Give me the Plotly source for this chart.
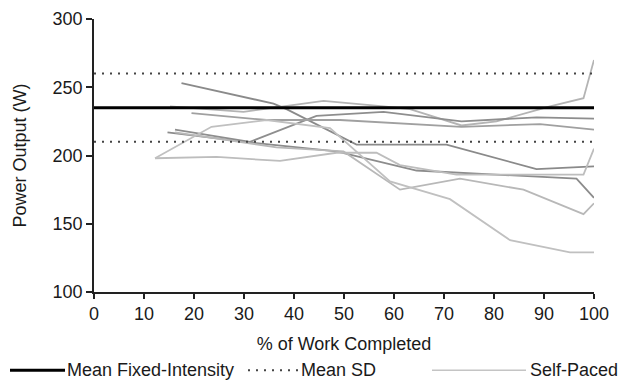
import plotly.graph_objects as go

# ---- data ----
x_ticks = [0, 10, 20, 30, 40, 50, 60, 70, 80, 90, 100]
y_ticks = [100, 150, 200, 250, 300]
mean_fixed = 235
mean_sd = 25

# self-paced individual trials (% work completed, power W)
sp1_x = [17.5, 35.9, 38.5, 52.5, 70.5, 88.5, 100]
sp1_y = [253, 238, 234, 208, 208, 190, 192]
sp2_x = [15.2, 23.2, 29.9, 37.9, 45.9, 57.9, 63.2, 73.5, 80.5, 91.2, 97.9, 100]
sp2_y = [236, 234, 232, 236, 240, 236, 234, 222, 225, 236, 242, 270]
sp3_x = [16.2, 31.2, 44.5, 57.9, 73.5, 88.5, 100]
sp3_y = [219, 210, 229, 232, 225, 228, 227]
sp4_x = [19.5, 34.5, 49.2, 73.5, 89.2, 100]
sp4_y = [231, 226, 226, 221, 223, 219]
sp5_x = [14.7, 32.5, 48.5, 64.5, 96.5, 100]
sp5_y = [217, 209, 203, 189, 183, 169]
sp6_x = [12.2, 24.5, 37.2, 48.5, 56.5, 61.2, 72.5, 97.9, 100]
sp6_y = [198, 199, 196, 202, 202, 193, 186, 186, 205]
sp7_x = [16.2, 36.5, 49.9, 61.2, 73.2, 85.9, 97.9, 100]
sp7_y = [217, 206, 203, 175, 183, 175, 157, 165]
sp8_x = [12.2, 23.5, 34.5, 47.2, 59.2, 71.2, 83.2, 95.2, 100]
sp8_y = [198, 221, 226, 220, 181, 168, 138, 129, 129]

series = [
    (sp1_x, sp1_y, "#8a8a8a"),
    (sp2_x, sp2_y, "#b4b4b4"),
    (sp3_x, sp3_y, "#8e8e8e"),
    (sp4_x, sp4_y, "#a0a0a0"),
    (sp5_x, sp5_y, "#8c8c8c"),
    (sp6_x, sp6_y, "#bdbdbd"),
    (sp7_x, sp7_y, "#b8b8b8"),
    (sp8_x, sp8_y, "#c0c0c0"),
]

legend_labels = ["Mean Fixed-Intensity", "Mean SD", "Self-Paced"]

FONT = "Liberation Sans, Arial, sans-serif"
FS = 18

# page body has an 8px margin; lay the figure out 8px up/left
OFF = 8
FIG_W, FIG_H = 628 - OFF, 389 - OFF

fig = go.Figure()

for xs, ys, col in series:
    fig.add_trace(go.Scatter(x=xs, y=ys, mode="lines", showlegend=False,
                             line=dict(color=col, width=1.8), hoverinfo="skip"))

x_full = [x_ticks[0], x_ticks[-1]]
for v in (mean_fixed + mean_sd, mean_fixed - mean_sd):
    fig.add_trace(go.Scatter(x=x_full, y=[v, v], mode="lines", showlegend=False,
                             line=dict(color="#444444", width=2, dash="2px,6px")))
fig.add_trace(go.Scatter(x=x_full, y=[mean_fixed, mean_fixed], mode="lines",
                         showlegend=False, line=dict(color="black", width=3.2)))

# ---- manual legend below the plot (paper coords; reference pixel positions) ----
L, W = 94.0 - OFF, 500.0
T, H = 19.0 - OFF, 273.5
def px(x):
    return (x - OFF - L) / W
def py(y):
    return (T + H - (y - OFF)) / H

ly = 371
legend_items = [
    (10, 65, dict(color="black", width=3), legend_labels[0], 65),
    (248, 298, dict(color="#444444", width=2, dash="2px,6px"), legend_labels[1], 299),
    (432, 526, dict(color="#c4c4c4", width=1.5), legend_labels[2], 528),
]
for x0, x1, ln, txt, tx in legend_items:
    fig.add_shape(type="line", xref="paper", yref="paper",
                  x0=px(x0), x1=px(x1), y0=py(ly), y1=py(ly), line=ln)
    fig.add_annotation(xref="paper", yref="paper", x=px(tx), y=py(ly),
                       text=txt, showarrow=False, xanchor="left", yanchor="middle",
                       font=dict(family=FONT, size=FS, color="#1a1a1a"))

fig.update_layout(
    width=FIG_W, height=FIG_H,
    margin=dict(l=L, r=FIG_W - L - W, t=T, b=FIG_H - T - H, pad=0),
    paper_bgcolor="white", plot_bgcolor="white",
    font=dict(family=FONT, size=FS, color="#1a1a1a"),
    showlegend=False,
)
fig.update_xaxes(
    range=[0, 100], tickvals=x_ticks, ticktext=[str(t) for t in x_ticks],
    showline=True, linecolor="#222", linewidth=1.5,
    ticks="outside", ticklen=5, tickwidth=1.5, tickcolor="#222",
    showgrid=False, zeroline=False, automargin=False,
    title=dict(text="% of Work Completed", font=dict(size=FS), standoff=14),
)
fig.update_yaxes(
    range=[100, 300], tickvals=y_ticks, ticktext=[str(t) for t in y_ticks],
    showline=True, linecolor="#222", linewidth=1.5,
    ticks="outside", ticklen=6, tickwidth=1.5, tickcolor="#222",
    showgrid=False, zeroline=False, automargin=False,
    title=dict(text="Power Output (W)", font=dict(size=FS), standoff=21),
)

fig.write_html("out.html")
